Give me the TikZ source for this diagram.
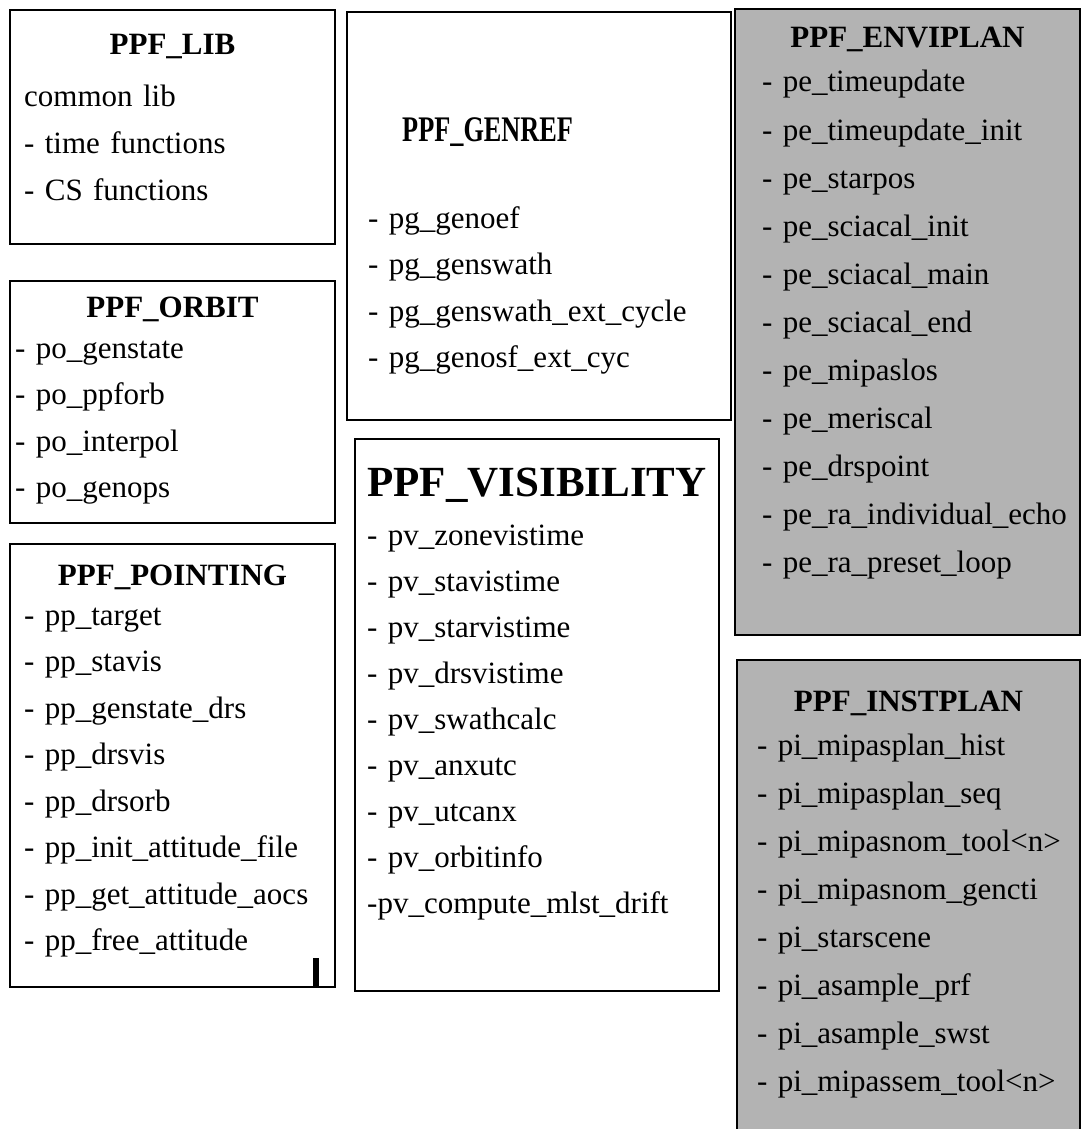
\documentclass[tikz,border=0pt]{standalone}
\usepackage{fontspec}
\setmainfont{Liberation Serif}
\usetikzlibrary{positioning}
\definecolor{plangray}{RGB}{179,179,179}

\begin{document}
\begin{tikzpicture}[x=1pt,y=-1pt,node distance=46.5pt,on grid,
  mod/.style={draw,line width=2pt,anchor=north west,inner sep=0pt},
  ttl/.style={anchor=base,inner sep=0pt,font=\fontsize{31}{37}\selectfont\bfseries},
  fn/.style={anchor=west,inner sep=0pt,text width=320pt,align=left,
    text height=21pt,text depth=7pt,font=\fontsize{31}{37}\selectfont}]
  \useasboundingbox (0,0) rectangle (1082,1129);
  \clip (0,0) rectangle (1082,1129);
  % frames
  \node[mod,minimum width=325pt,minimum height=234pt] (LIB) at (9,9) {};
  \node[mod,minimum width=384pt,minimum height=408pt] (GEN) at (346,11) {};
  \node[mod,minimum width=345pt,minimum height=626pt,fill=plangray] (ENV) at (734,8) {};
  \node[mod,minimum width=343pt,minimum height=500pt,fill=plangray] (INS) at (736,659) {};
  \node[mod,minimum width=325pt,minimum height=242pt] (ORB) at (9,280) {};
  \node[mod,minimum width=325pt,minimum height=443pt] (PNT) at (9,543) {};
  \node[mod,minimum width=364pt,minimum height=552pt] (VIS) at (354,438) {};
  % PPF_LIB
  \node[ttl] (LIBt) at ([yshift=-46pt]LIB.north) {PPF\_LIB};
  \node[fn] (L1) at ([xshift=15pt,yshift=-91pt]LIB.north west) {common lib};
  \node[fn] (L2) [below=of L1] {- time functions};
  \node[fn] (L3) [below=of L2] {- CS functions};
  % PPF_GENREF
  \node[ttl,anchor=base west,font=\fontsize{36}{40}\selectfont\bfseries]
    (GENt) at ([xshift=56pt,yshift=-131pt]GEN.north west) {\scalebox{0.73}[1]{PPF\_GENREF}};
  \node[fn] (G1) at ([xshift=22pt,yshift=-210pt]GEN.north west) {- pg\_genoef};
  \node[fn] (G2) [below=of G1] {- pg\_genswath};
  \node[fn] (G3) [below=of G2] {- pg\_genswath\_ext\_cycle};
  \node[fn] (G4) [below=of G3] {- pg\_genosf\_ext\_cyc};
  % PPF_ENVIPLAN
  \node[ttl] (ENVt) at ([yshift=-40pt]ENV.north) {PPF\_ENVIPLAN};
  \node[fn] (E1) at ([xshift=28pt,yshift=-77pt]ENV.north west) {- pe\_timeupdate};
  \node[fn] (E2) [below=48pt of E1] {- pe\_timeupdate\_init};
  \node[fn] (E3) [below=48pt of E2] {- pe\_starpos};
  \node[fn] (E4) [below=48pt of E3] {- pe\_sciacal\_init};
  \node[fn] (E5) [below=48pt of E4] {- pe\_sciacal\_main};
  \node[fn] (E6) [below=48pt of E5] {- pe\_sciacal\_end};
  \node[fn] (E7) [below=48pt of E6] {- pe\_mipaslos};
  \node[fn] (E8) [below=48pt of E7] {- pe\_meriscal};
  \node[fn] (E9) [below=48pt of E8] {- pe\_drspoint};
  \node[fn] (E10) [below=48pt of E9] {- pe\_ra\_individual\_echo};
  \node[fn] (E11) [below=48pt of E10] {- pe\_ra\_preset\_loop};
  % PPF_INSTPLAN
  \node[ttl] (INSt) at ([yshift=-52pt]INS.north) {PPF\_INSTPLAN};
  \node[fn] (I1) at ([xshift=21pt,yshift=-89pt]INS.north west) {- pi\_mipasplan\_hist};
  \node[fn] (I2) [below=48pt of I1] {- pi\_mipasplan\_seq};
  \node[fn] (I3) [below=48pt of I2] {- pi\_mipasnom\_tool\textless n\textgreater};
  \node[fn] (I4) [below=48pt of I3] {- pi\_mipasnom\_gencti};
  \node[fn] (I5) [below=48pt of I4] {- pi\_starscene};
  \node[fn] (I6) [below=48pt of I5] {- pi\_asample\_prf};
  \node[fn] (I7) [below=48pt of I6] {- pi\_asample\_swst};
  \node[fn] (I8) [below=48pt of I7] {- pi\_mipassem\_tool\textless n\textgreater};
  % PPF_ORBIT
  \node[ttl] (ORBt) at ([yshift=-37pt]ORB.north) {PPF\_ORBIT};
  \node[fn] (O1) at ([xshift=6pt,yshift=-71pt]ORB.north west) {- po\_genstate};
  \node[fn] (O2) [below=of O1] {- po\_ppforb};
  \node[fn] (O3) [below=of O2] {- po\_interpol};
  \node[fn] (O4) [below=of O3] {- po\_genops};
  % PPF_POINTING
  \node[ttl] (PNTt) at ([yshift=-42pt]PNT.north) {PPF\_POINTING};
  \node[fn] (P1) at ([xshift=15pt,yshift=-75pt]PNT.north west) {- pp\_target};
  \node[fn] (P2) [below=of P1] {- pp\_stavis};
  \node[fn] (P3) [below=of P2] {- pp\_genstate\_drs};
  \node[fn] (P4) [below=of P3] {- pp\_drsvis};
  \node[fn] (P5) [below=of P4] {- pp\_drsorb};
  \node[fn] (P6) [below=of P5] {- pp\_init\_attitude\_file};
  \node[fn] (P7) [below=of P6] {- pp\_get\_attitude\_aocs};
  \node[fn] (P8) [below=of P7] {- pp\_free\_attitude};
  \fill (313,958) rectangle (319,986);
  % PPF_VISIBILITY
  \node[ttl,font=\fontsize{43}{50}\selectfont\bfseries] (VISt) at ([yshift=-58pt]VIS.north) {PPF\_VISIBILITY};
  \node[fn] (V1) at ([xshift=13pt,yshift=-100pt]VIS.north west) {- pv\_zonevistime};
  \node[fn] (V2) [below=46pt of V1] {- pv\_stavistime};
  \node[fn] (V3) [below=46pt of V2] {- pv\_starvistime};
  \node[fn] (V4) [below=46pt of V3] {- pv\_drsvistime};
  \node[fn] (V5) [below=46pt of V4] {- pv\_swathcalc};
  \node[fn] (V6) [below=46pt of V5] {- pv\_anxutc};
  \node[fn] (V7) [below=46pt of V6] {- pv\_utcanx};
  \node[fn] (V8) [below=46pt of V7] {- pv\_orbitinfo};
  \node[fn] (V9) [below=46pt of V8] {-pv\_compute\_mlst\_drift};
\end{tikzpicture}
\end{document}
